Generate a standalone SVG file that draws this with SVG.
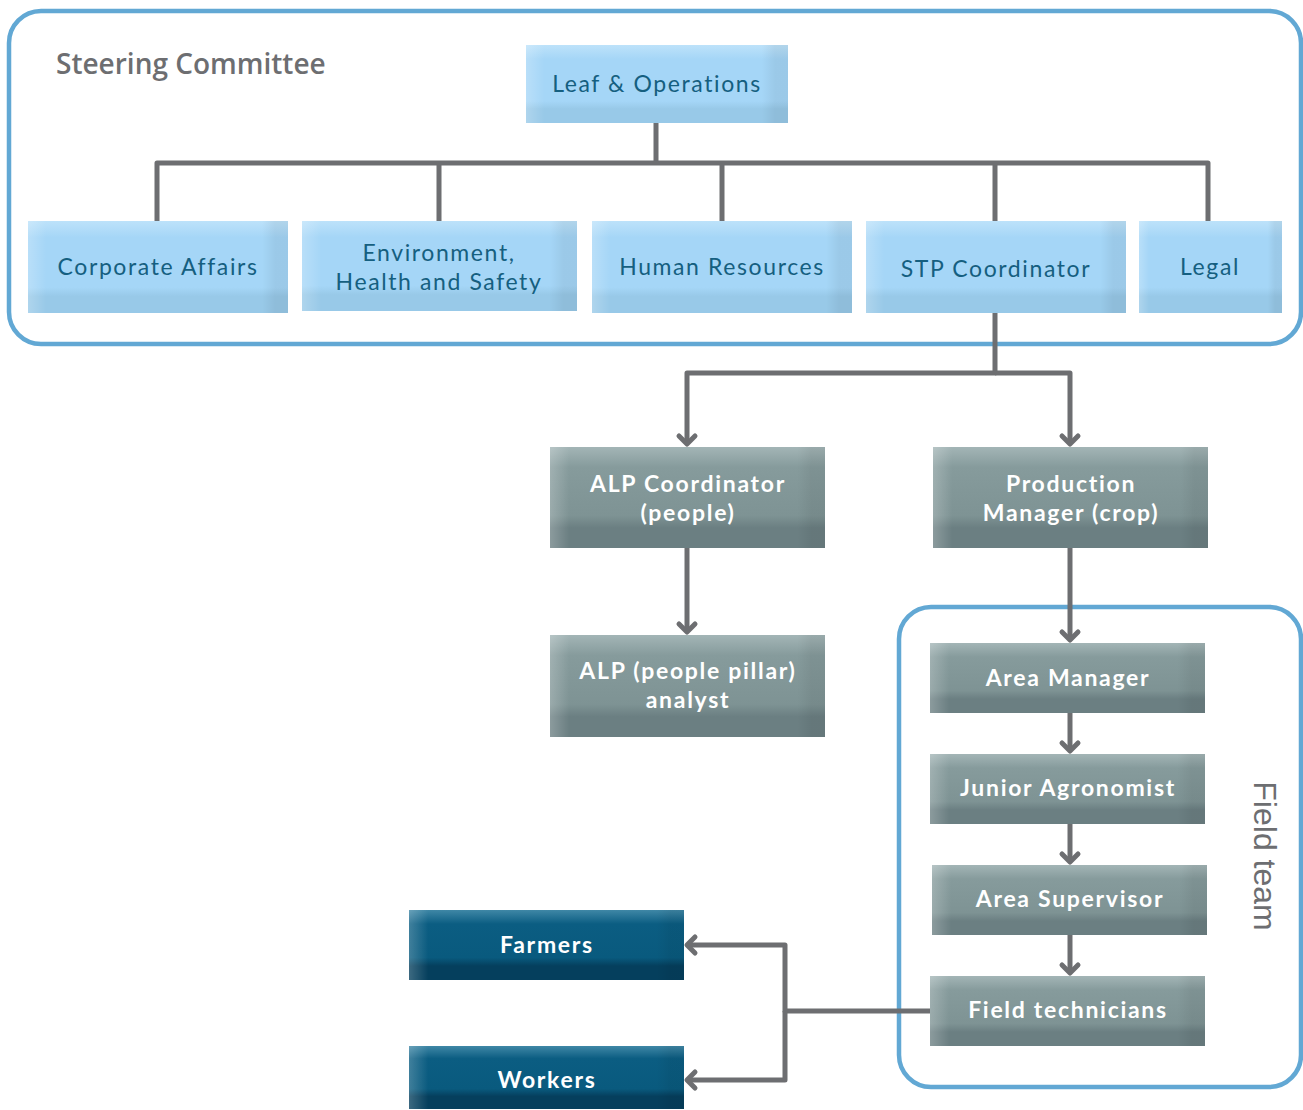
<svg xmlns="http://www.w3.org/2000/svg" width="1303" height="1110" viewBox="0 0 1303 1110">
<style>
.frame{fill:none;stroke:#62a8d4;stroke-width:4.5}
.conn{fill:none;stroke:#6d6e71;stroke-width:5;stroke-linejoin:round}
.lt{font-family:Lato,"Open Sans",sans-serif;font-size:23px;fill:#155f80;letter-spacing:1.6px;text-anchor:middle}
.dt{font-family:Lato,"Open Sans",sans-serif;font-size:23px;font-weight:bold;fill:#ffffff;letter-spacing:1.7px;text-anchor:middle}
.lbl{font-family:"Open Sans",sans-serif;font-size:28px;font-weight:600;fill:#6d6e71;letter-spacing:0px}
.ft{font-family:"Liberation Sans",Arial,sans-serif;font-size:32px;fill:#6d6e71}
</style>
<defs>
<linearGradient id="gLightV" x1="0" y1="0" x2="0" y2="1">
<stop offset="0" stop-color="#bde2fa"/><stop offset="0.18" stop-color="#a5d6f7"/><stop offset="0.72" stop-color="#a5d6f7"/><stop offset="0.82" stop-color="#98c9e8"/><stop offset="1" stop-color="#98c9e8"/>
</linearGradient>
<linearGradient id="gGreyV" x1="0" y1="0" x2="0" y2="1">
<stop offset="0" stop-color="#a3b5b6"/><stop offset="0.2" stop-color="#869b9c"/><stop offset="0.68" stop-color="#7e9394"/><stop offset="0.8" stop-color="#6b7f82"/><stop offset="1" stop-color="#6b7f82"/>
</linearGradient>
<linearGradient id="gDarkV" x1="0" y1="0" x2="0" y2="1">
<stop offset="0" stop-color="#3f87a6"/><stop offset="0.2" stop-color="#0b5d82"/><stop offset="0.68" stop-color="#095a7e"/><stop offset="0.8" stop-color="#053f5d"/><stop offset="1" stop-color="#053f5d"/>
</linearGradient>
<linearGradient id="gSide" x1="0" y1="0" x2="1" y2="0">
<stop offset="0" stop-color="#ffffff" stop-opacity="0.22"/><stop offset="0.07" stop-color="#ffffff" stop-opacity="0"/><stop offset="0.9" stop-color="#000000" stop-opacity="0"/><stop offset="0.95" stop-color="#000000" stop-opacity="0.06"/><stop offset="1" stop-color="#000000" stop-opacity="0.06"/>
</linearGradient>
<marker id="arr" markerUnits="userSpaceOnUse" viewBox="-12 -10 14 20" refX="0" refY="0" markerWidth="14" markerHeight="20" orient="auto" overflow="visible">
<path d="M-8,-8 L0,0 L-8,8" fill="none" stroke="#6d6e71" stroke-width="5" stroke-linecap="round" stroke-linejoin="round"/>
</marker>
</defs>

<g id="steering-committee">
<rect class="frame" x="9" y="11" width="1292" height="333" rx="32"/>
<text class="lbl" x="56" y="74">Steering Committee</text>
</g>
<g id="field-team">
<rect class="frame" x="899" y="607" width="402" height="480" rx="32"/>
<text class="ft" transform="translate(1254,856) rotate(90)" text-anchor="middle">Field team</text>
</g>

<g id="connectors">
<path class="conn" d="M656,123 V163 M157,221 V163 H1208 V221 M439,163 V221 M722,163 V221 M995,163 V221"/>
<path class="conn" d="M995,313 V373 H687 V444" marker-end="url(#arr)"/>
<path class="conn" d="M995,373 H1070 V444" marker-end="url(#arr)"/>
<path class="conn" d="M687,548 V632" marker-end="url(#arr)"/>
<path class="conn" d="M1070,548 V640" marker-end="url(#arr)"/>
<path class="conn" d="M1070,713 V751" marker-end="url(#arr)"/>
<path class="conn" d="M1070,824 V862" marker-end="url(#arr)"/>
<path class="conn" d="M1070,935 V973" marker-end="url(#arr)"/>
<path class="conn" d="M930,1011 H785 V945 H687" marker-end="url(#arr)"/>
<path class="conn" d="M785,1011 V1080 H687" marker-end="url(#arr)"/>
</g>

<g id="leaf-operations">
<rect x="526" y="45" width="262" height="78" fill="url(#gLightV)"/><rect x="526" y="45" width="262" height="78" fill="url(#gSide)"/>
<text class="lt" x="657" y="92">Leaf &amp; Operations</text>
</g>
<g id="corporate-affairs">
<rect x="28" y="221" width="260" height="92" fill="url(#gLightV)"/><rect x="28" y="221" width="260" height="92" fill="url(#gSide)"/>
<text class="lt" x="158" y="275">Corporate Affairs</text>
</g>
<g id="ehs">
<rect x="302" y="221" width="275" height="90" fill="url(#gLightV)"/><rect x="302" y="221" width="275" height="90" fill="url(#gSide)"/>
<text class="lt" x="439" y="261">Environment,</text>
<text class="lt" x="439" y="290">Health and Safety</text>
</g>
<g id="human-resources">
<rect x="592" y="221" width="260" height="92" fill="url(#gLightV)"/><rect x="592" y="221" width="260" height="92" fill="url(#gSide)"/>
<text class="lt" x="722" y="275">Human Resources</text>
</g>
<g id="stp-coordinator">
<rect x="866" y="221" width="260" height="92" fill="url(#gLightV)"/><rect x="866" y="221" width="260" height="92" fill="url(#gSide)"/>
<text class="lt" x="996" y="277">STP Coordinator</text>
</g>
<g id="legal">
<rect x="1139" y="221" width="143" height="92" fill="url(#gLightV)"/><rect x="1139" y="221" width="143" height="92" fill="url(#gSide)"/>
<text class="lt" x="1210" y="275">Legal</text>
</g>

<g id="alp-coordinator">
<rect x="550" y="447" width="275" height="101" fill="url(#gGreyV)"/><rect x="550" y="447" width="275" height="101" fill="url(#gSide)"/>
<text class="dt" x="688" y="492">ALP Coordinator</text>
<text class="dt" x="688" y="521">(people)</text>
</g>
<g id="production-manager">
<rect x="933" y="447" width="275" height="101" fill="url(#gGreyV)"/><rect x="933" y="447" width="275" height="101" fill="url(#gSide)"/>
<text class="dt" x="1071" y="492">Production</text>
<text class="dt" x="1071" y="521">Manager (crop)</text>
</g>
<g id="alp-analyst">
<rect x="550" y="635" width="275" height="102" fill="url(#gGreyV)"/><rect x="550" y="635" width="275" height="102" fill="url(#gSide)"/>
<text class="dt" x="688" y="679">ALP (people pillar)</text>
<text class="dt" x="688" y="708">analyst</text>
</g>
<g id="area-manager">
<rect x="930" y="643" width="275" height="70" fill="url(#gGreyV)"/><rect x="930" y="643" width="275" height="70" fill="url(#gSide)"/>
<text class="dt" x="1068" y="686">Area Manager</text>
</g>
<g id="junior-agronomist">
<rect x="930" y="754" width="275" height="70" fill="url(#gGreyV)"/><rect x="930" y="754" width="275" height="70" fill="url(#gSide)"/>
<text class="dt" x="1068" y="796">Junior Agronomist</text>
</g>
<g id="area-supervisor">
<rect x="932" y="865" width="275" height="70" fill="url(#gGreyV)"/><rect x="932" y="865" width="275" height="70" fill="url(#gSide)"/>
<text class="dt" x="1070" y="907">Area Supervisor</text>
</g>
<g id="field-technicians">
<rect x="930" y="976" width="275" height="70" fill="url(#gGreyV)"/><rect x="930" y="976" width="275" height="70" fill="url(#gSide)"/>
<text class="dt" x="1068" y="1018">Field technicians</text>
</g>
<g id="farmers">
<rect x="409" y="910" width="275" height="70" fill="url(#gDarkV)"/><rect x="409" y="910" width="275" height="70" fill="url(#gSide)"/>
<text class="dt" x="547" y="953">Farmers</text>
</g>
<g id="workers">
<rect x="409" y="1046" width="275" height="63" fill="url(#gDarkV)"/><rect x="409" y="1046" width="275" height="63" fill="url(#gSide)"/>
<text class="dt" x="547" y="1088">Workers</text>
</g>
</svg>
